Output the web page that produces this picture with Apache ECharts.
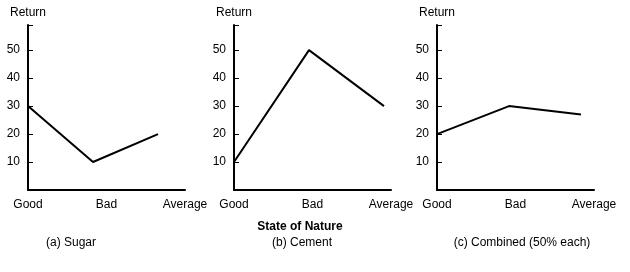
<!DOCTYPE html>
<html>
<head>
<meta charset="utf-8">
<script src="https://cdn.jsdelivr.net/npm/echarts@6/dist/echarts.min.js"></script>
<style>html,body{margin:0;padding:0;background:#fff}#c{width:630px;height:272px}</style>
</head>
<body>
<div id="c"></div>
<script>
var states = ["Good", "Bad", "Average"];
var sugar = [30, 10, 20];
var cement = [10, 50, 30];
var combined = [20, 30, 27];
var yTicks = [10, 20, 30, 40, 50];
var captions = ["(a) Sugar", "(b) Cement", "(c) Combined (50% each)"];
var xTitle = "State of Nature";
var yTitle = "Return";

var FONT = "Liberation Sans, Arial, sans-serif";
var panels = [
  {axisLeft: 28, axisWidth: 157, lineWidth: 130, data: sugar, cap: 71},
  {axisLeft: 234, axisWidth: 157, lineWidth: 150, data: cement, cap: 302},
  {axisLeft: 437, axisWidth: 157, lineWidth: 144, data: combined, cap: 522}
];
var TOP = 25, H = 165, YMAX = 59;

var grids = [], xAxes = [], yAxes = [], series = [], graphics = [];
panels.forEach(function (p, i) {
  // visible axis grid
  grids.push({left: p.axisLeft, top: TOP, width: p.axisWidth, height: H});
  // plot grid for line
  grids.push({left: p.axisLeft, top: TOP, width: p.lineWidth, height: H});
  var g0 = i * 2, g1 = i * 2 + 1;
  xAxes.push({
    gridIndex: g0, type: 'category', data: states, boundaryGap: false,
    axisLine: {lineStyle: {color: '#000', width: 2}},
    axisTick: {show: false},
    axisLabel: {color: '#000', fontSize: 12, fontFamily: FONT, margin: 9, interval: 0},
    splitLine: {show: false}
  });
  xAxes.push({
    gridIndex: g1, type: 'category', data: states, boundaryGap: false, show: false
  });
  yAxes.push({
    gridIndex: g0, type: 'value', min: 0, max: YMAX, interval: 10,
    name: yTitle, nameLocation: 'end', nameGap: 6,
    nameTextStyle: {color: '#000', fontSize: 12, fontFamily: FONT, align: 'center'},
    axisLine: {show: true, lineStyle: {color: '#000', width: 2}},
    axisTick: {show: true, inside: true, length: 5, lineStyle: {color: '#000', width: 1}},
    axisLabel: {
      color: '#000', fontSize: 12, fontFamily: FONT, margin: 8,
      formatter: function (v) { return yTicks.indexOf(v) >= 0 ? String(v) : ''; }
    },
    splitLine: {show: false}
  });
  yAxes.push({gridIndex: g1, type: 'value', min: 0, max: YMAX, show: false});
  series.push({
    type: 'line', xAxisIndex: i * 2 + 1, yAxisIndex: i * 2 + 1,
    data: p.data, symbol: 'none', silent: true, animation: false,
    lineStyle: {color: '#000', width: 2}
  });
  graphics.push({
    type: 'text', x: p.cap, y: 243,
    style: {text: captions[i], fill: '#000', font: '12px ' + FONT, textAlign: 'center', textVerticalAlign: 'middle'}
  });
});
graphics.push({
  type: 'text', x: 300, y: 227,
  style: {text: xTitle, fill: '#000', font: 'bold 12px ' + FONT, textAlign: 'center', textVerticalAlign: 'middle'}
});

var chart = echarts.init(document.getElementById('c'), null, {renderer: 'canvas'});
chart.setOption({
  animation: false,
  backgroundColor: '#fff',
  grid: grids, xAxis: xAxes, yAxis: yAxes, series: series, graphic: graphics
});
</script>
</body>
</html>
